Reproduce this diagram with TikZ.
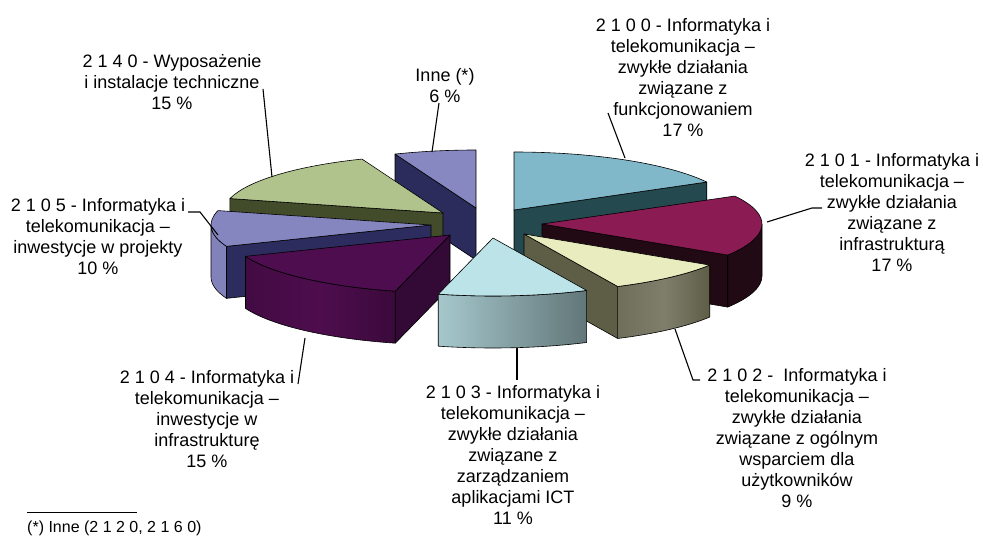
\documentclass[tikz,border=0pt]{standalone}
\usepackage{fontspec}
\setmainfont{Liberation Sans}
\usetikzlibrary{calc}
\definecolor{cinnetop}{HTML}{8787C1}
\definecolor{cinneside}{HTML}{2B2B5C}
\definecolor{c2100top}{HTML}{80B8CA}
\definecolor{c2100side}{HTML}{24494F}
\definecolor{c2140top}{HTML}{B1C38C}
\definecolor{c2140side}{HTML}{424C2A}
\definecolor{c2105top}{HTML}{8586C0}
\definecolor{c2105side}{HTML}{2C2C5E}
\definecolor{c2101top}{HTML}{8B1B53}
\definecolor{c2101side}{HTML}{220A15}
\definecolor{c2104top}{HTML}{4E0D4E}
\definecolor{c2104side}{HTML}{330A36}
\definecolor{c2102top}{HTML}{E9ECBE}
\definecolor{c2102side}{HTML}{5E5E47}
\definecolor{c2103top}{HTML}{BCE3E8}
\tikzset{
  face/.style={draw=black, line width=0.6pt, line join=round},
  piearc/.style={x radius=220, y radius=58},
  slicelabel/.style={align=center, inner sep=0pt, font=\fontsize{18}{21}\selectfont},
  leader/.style={draw=black, line width=1.1pt}
}
\begin{document}
\begin{tikzpicture}[x=1pt, y=1pt]
\useasboundingbox (0,0) rectangle (983,536);
% apex of every slice (exploded)
\coordinate (aInne) at (476,328);
\coordinate (a2100) at (514,326);
\coordinate (a2140) at (443,323);
\coordinate (a2105) at (431,311);
\coordinate (a2101) at (542,312);
\coordinate (a2104) at (450,301);
\coordinate (a2102) at (524,302);
\coordinate (a2103) at (493,298);
% Inne
\filldraw[face, fill=cinneside] (aInne) -- ($(aInne)+(111.6:220 and 58)$) -- ++(0,-52) -- ($(aInne)+(0,-52)$) -- cycle;
\filldraw[face, fill=cinnetop] (aInne) -- ++(111.6:220 and 58) arc[start angle=111.6, end angle=90, piearc] -- cycle;
% 2100
\filldraw[face, fill=c2100side] (a2100) -- ($(a2100)+(28.8:220 and 58)$) -- ++(0,-52) -- ($(a2100)+(0,-52)$) -- cycle;
\filldraw[face, fill=c2100top] (a2100) -- ++(90:220 and 58) arc[start angle=90, end angle=28.8, piearc] -- cycle;
% 2140
\filldraw[face, fill=c2140side] (a2140) -- ($(a2140)+(165.6:220 and 58)$) -- ++(0,-52) -- ($(a2140)+(0,-52)$) -- cycle;
\filldraw[face, fill=c2140top] (a2140) -- ++(165.6:220 and 58) arc[start angle=165.6, end angle=111.6, piearc] -- cycle;
% 2105
\filldraw[face, fill=c2105side] (a2105) -- ($(a2105)+(201.6:220 and 58)$) -- ++(0,-52) -- ($(a2105)+(0,-52)$) -- cycle;
\filldraw[face, fill=c2105top!97!black] ($(a2105)+(201.6:220 and 58)$) arc[start angle=201.6, end angle=180, piearc] -- ++(0,-52) arc[start angle=180, end angle=201.6, piearc] -- cycle;
\filldraw[face, fill=c2105top] (a2105) -- ++(201.6:220 and 58) arc[start angle=201.6, end angle=165.6, piearc] -- cycle;
% 2101
\filldraw[face, fill=c2101side] (a2101) -- ($(a2101)+(-32.4:220 and 58)$) -- ++(0,-52) -- ($(a2101)+(0,-52)$) -- cycle;
\filldraw[face, fill=c2101side] ($(a2101)+(0:220 and 58)$) arc[start angle=0, end angle=-32.4, piearc] -- ++(0,-52) arc[start angle=-32.4, end angle=0, piearc] -- cycle;
\filldraw[face, fill=c2101top] (a2101) -- ++(28.8:220 and 58) arc[start angle=28.8, end angle=-32.4, piearc] -- cycle;
% 2104
\filldraw[face, fill=c2104side] (a2104) -- ($(a2104)+(-104.4:220 and 58)$) -- ++(0,-52) -- ($(a2104)+(0,-52)$) -- cycle;
\shadedraw[face, left color=c2104top!85!black, right color=c2104top!75!black, middle color=c2104top] ($(a2104)+(-104.4:220 and 58)$) arc[start angle=-104.4, end angle=-158.4, piearc] -- ++(0,-52) arc[start angle=-158.4, end angle=-104.4, piearc] -- cycle;
\filldraw[face, fill=c2104top] (a2104) -- ++(-104.4:220 and 58) arc[start angle=-104.4, end angle=-158.4, piearc] -- cycle;
% 2102
\filldraw[face, fill=c2102side] (a2102) -- ($(a2102)+(-64.8:220 and 58)$) -- ++(0,-52) -- ($(a2102)+(0,-52)$) -- cycle;
\shadedraw[face, left color=c2102side!90!white, right color=c2102side, middle color=c2102side!80!white] ($(a2102)+(-32.4:220 and 58)$) arc[start angle=-32.4, end angle=-64.8, piearc] -- ++(0,-52) arc[start angle=-64.8, end angle=-32.4, piearc] -- cycle;
\filldraw[face, fill=c2102top] (a2102) -- ++(-32.4:220 and 58) arc[start angle=-32.4, end angle=-64.8, piearc] -- cycle;
% 2103
\shadedraw[face, left color=c2103top!88!black, right color=c2103top!52!black] ($(a2103)+(-64.8:220 and 58)$) arc[start angle=-64.8, end angle=-104.4, piearc] -- ++(0,-52) arc[start angle=-104.4, end angle=-64.8, piearc] -- cycle;
\filldraw[face, fill=c2103top] (a2103) -- ++(-64.8:220 and 58) arc[start angle=-64.8, end angle=-104.4, piearc] -- cycle;
% labels
\node[slicelabel] (nInne) at (445,450.5) {Inne (*)\\6 \%};
\node[slicelabel] (n2100) at (683,458.5) {2 1 0 0 - Informatyka i\\telekomunikacja –\\zwykłe działania\\związane z\\funkcjonowaniem\\17 \%};
\node[slicelabel] (n2101) at (892,323) {2 1 0 1 - Informatyka i\\telekomunikacja –\\zwykłe działania\\związane z\\infrastrukturą\\17 \%};
\node[slicelabel] (n2102) at (797,97.5) {2 1 0 2 -~ Informatyka i\\telekomunikacja –\\zwykłe działania\\związane z ogólnym\\wsparciem dla\\użytkowników\\9 \%};
\node[slicelabel] (n2103) at (513,81) {2 1 0 3 - Informatyka i\\telekomunikacja –\\zwykłe działania\\związane z\\zarządzaniem\\aplikacjami ICT\\11 \%};
\node[slicelabel] (n2104) at (207,116.5) {2 1 0 4 - Informatyka i\\telekomunikacja –\\inwestycje w\\infrastrukturę\\15 \%};
\node[slicelabel] (n2105) at (98,299.5) {2 1 0 5 - Informatyka i\\telekomunikacja –\\inwestycje w projekty\\10 \%};
\node[slicelabel] (n2140) at (172,453.5) {2 1 4 0 - Wyposażenie\\i instalacje techniczne\\15 \%};
% leader lines
\coordinate (sInne) at (432,384);  \coordinate (tInne) at (439,433);
\coordinate (s2100) at (625,378);  \coordinate (t2100) at (608,423);
\coordinate (s2101) at (767,314);  \coordinate (t2101) at (822,328);
\coordinate (s2102) at (675,207);  \coordinate (t2102) at (700,156);
\coordinate (s2103) at (517,188);  \coordinate (t2103) at (517,156);
\coordinate (s2104) at (305,198);  \coordinate (t2104) at (298,152);
\coordinate (s2105) at (218,301);  \coordinate (t2105) at (188,324);
\coordinate (s2140) at (272,359);  \coordinate (t2140) at (263,447);
\draw[leader] (sInne) -- (tInne);
\draw[leader] (s2100) -- (t2100);
\draw[leader] (s2101) -- (812,328) -- (t2101);
\draw[leader] (s2102) -- (693,156) -- (t2102);
\draw[leader] (s2103) -- (t2103);
\draw[leader] (s2104) -- (t2104);
\draw[leader] (s2105) -- (200,324) -- (t2105);
\draw[leader] (s2140) -- (t2140);
% footnote
\coordinate (fa) at (27,24);
\coordinate (fb) at (137,24);
\draw[line width=0.8pt] (fa) -- (fb);
\node[anchor=base west, inner sep=0pt, font=\fontsize{16}{19}\selectfont] (foot) at (27,4) {(*) Inne (2 1 2 0, 2 1 6 0)};
\end{tikzpicture}
\end{document}
